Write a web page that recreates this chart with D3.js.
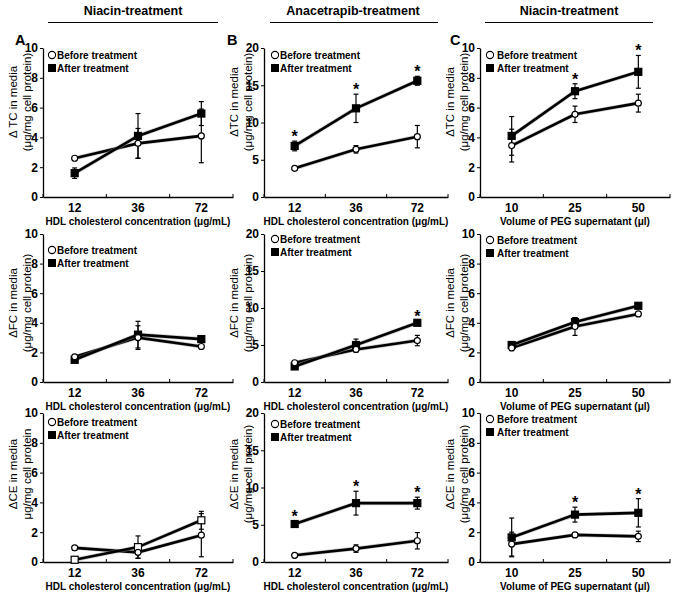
<!DOCTYPE html>
<html>
<head>
<meta charset="utf-8">
<script src="https://cdn.jsdelivr.net/npm/d3@7"></script>
<style>
  body { margin: 0; background: #fff; }
  text { font-family: "Liberation Sans", Arial, sans-serif; fill: #000; }
</style>
</head>
<body>
<div id="chart"></div>
<script>
// categories
const hdlConc = ["12", "36", "72"];
const pegVolume = ["10", "25", "50"];
const colTitles = ["Niacin-treatment", "Anacetrapib-treatment", "Niacin-treatment"];
const panelLetters = ["A", "B", "C"];
const ticks10 = [0, 2, 4, 6, 8, 10];
const ticks20 = [0, 5, 10, 15, 20];

// row 1: total cholesterol
const tcNiacinBefore = [2.6, 3.6, 4.1], tcNiacinBeforeErr = [0.1, 1.0, 1.8];
const tcNiacinAfter = [1.6, 4.1, 5.6], tcNiacinAfterErr = [0.35, 1.5, 0.8];
const tcAnaBefore = [3.85, 6.4, 8.1], tcAnaBeforeErr = [0.2, 0.5, 1.5];
const tcAnaAfter = [6.85, 11.9, 15.6], tcAnaAfterErr = [0.65, 1.9, 0.6];
const tcAnaStars = [0, 1, 2];
const tcPegBefore = [3.45, 5.55, 6.3], tcPegBeforeErr = [1.1, 0.55, 0.6];
const tcPegAfter = [4.1, 7.1, 8.4], tcPegAfterErr = [1.3, 0.5, 1.1];
const tcPegStars = [1, 2];

// row 2: free cholesterol
const fcNiacinBefore = [1.7, 3.0, 2.4], fcNiacinBeforeErr = [0.1, 0.8, 0.1];
const fcNiacinAfter = [1.5, 3.2, 2.9], fcNiacinAfterErr = [0.1, 0.9, 0.15];
const fcAnaBefore = [2.6, 4.4, 5.6], fcAnaBeforeErr = [0.2, 0.3, 0.7];
const fcAnaAfter = [2.1, 5.0, 8.0], fcAnaAfterErr = [0.2, 0.8, 0.2];
const fcAnaStars = [2];
const fcPegBefore = [2.3, 3.75, 4.6], fcPegBeforeErr = [0.1, 0.6, 0.1];
const fcPegAfter = [2.5, 4.05, 5.15], fcPegAfterErr = [0.1, 0.3, 0.15];
const fcPegStars = [];

// row 3: cholesteryl ester
const ceNiacinBefore = [0.95, 0.65, 1.8], ceNiacinBeforeErr = [0.15, 0.4, 1.45];
const ceNiacinAfter = [0.15, 1.0, 2.8], ceNiacinAfterErr = [0.1, 0.75, 0.6];
const ceAnaBefore = [0.9, 1.8, 2.85], ceAnaBeforeErr = [0.1, 0.5, 1.1];
const ceAnaAfter = [5.1, 7.9, 7.9], ceAnaAfterErr = [0.4, 1.6, 0.8];
const ceAnaStars = [0, 1, 2];
const cePegBefore = [1.2, 1.82, 1.72], cePegBeforeErr = [0.8, 0.1, 0.35];
const cePegAfter = [1.65, 3.18, 3.3], cePegAfterErr = [1.3, 0.5, 0.95];
const cePegStars = [1, 2];

const hdlTitle = "HDL cholesterol concentration (μg/mL)";
const pegTitle = "Volume of PEG supernatant (μl)";

// layout
const cols = [{ x: 43, w: 190 }, { x: 264, w: 184 }, { x: 480, w: 190 }];
const rows = [{ y: 48, h: 149, titleY: 102 }, { y: 234, h: 148, titleY: 303 }, { y: 413, h: 149, titleY: 474 }];

const panels = [
  { row: 0, col: 0, cats: hdlConc, xTitle: hdlTitle, yMax: 10, yTicks: ticks10, t1: "Δ TC in media", t2: "(μg/mg cell protein)",
    before: tcNiacinBefore, beforeErr: tcNiacinBeforeErr, after: tcNiacinAfter, afterErr: tcNiacinAfterErr, stars: [], legendDy: 7, legX: 9 },
  { row: 0, col: 1, cats: hdlConc, xTitle: hdlTitle, yMax: 20, yTicks: ticks20, t1: "ΔTC in media", t2: "(μg/mg cell protein)",
    before: tcAnaBefore, beforeErr: tcAnaBeforeErr, after: tcAnaAfter, afterErr: tcAnaAfterErr, stars: tcAnaStars, legendDy: 7, legX: 11 },
  { row: 0, col: 2, cats: pegVolume, xTitle: pegTitle, yMax: 10, yTicks: ticks10, t1: "ΔTC in media", t2: "(μg/mg cell protein)",
    before: tcPegBefore, beforeErr: tcPegBeforeErr, after: tcPegAfter, afterErr: tcPegAfterErr, stars: tcPegStars, legendDy: 7, legX: 10, gap: 8 },
  { row: 1, col: 0, cats: hdlConc, xTitle: hdlTitle, yMax: 10, yTicks: ticks10, t1: "ΔFC in media", t2: "(μg/mg cell protein)",
    before: fcNiacinBefore, beforeErr: fcNiacinBeforeErr, after: fcNiacinAfter, afterErr: fcNiacinAfterErr, stars: [], legendDy: 16, legX: 9 },
  { row: 1, col: 1, cats: hdlConc, xTitle: hdlTitle, yMax: 20, yTicks: ticks20, t1: "ΔFC in media", t2: "(μg/mg cell protein)",
    before: fcAnaBefore, beforeErr: fcAnaBeforeErr, after: fcAnaAfter, afterErr: fcAnaAfterErr, stars: fcAnaStars, legendDy: 5, legX: 11 },
  { row: 1, col: 2, cats: pegVolume, xTitle: pegTitle, yMax: 10, yTicks: ticks10, t1: "ΔFC in media", t2: "(μg/mg cell protein)",
    before: fcPegBefore, beforeErr: fcPegBeforeErr, after: fcPegAfter, afterErr: fcPegAfterErr, stars: fcPegStars, legendDy: 6, legX: 10, gap: 8 },
  { row: 2, col: 0, cats: hdlConc, xTitle: hdlTitle, yMax: 10, yTicks: ticks10, t1: "ΔCE in media", t2: "μg/mg cell protein",
    before: ceNiacinBefore, beforeErr: ceNiacinBeforeErr, after: ceNiacinAfter, afterErr: ceNiacinAfterErr, stars: [], legendDy: 9, legX: 9, openAfter: true },
  { row: 2, col: 1, cats: hdlConc, xTitle: hdlTitle, yMax: 20, yTicks: ticks20, t1: "ΔCE in media", t2: "(μg/mg cell protein)",
    before: ceAnaBefore, beforeErr: ceAnaBeforeErr, after: ceAnaAfter, afterErr: ceAnaAfterErr, stars: ceAnaStars, legendDy: 11, legX: 11 },
  { row: 2, col: 2, cats: pegVolume, xTitle: pegTitle, yMax: 10, yTicks: ticks10, t1: "ΔCE in media", t2: "(μg/mg cell protein)",
    before: cePegBefore, beforeErr: cePegBeforeErr, after: cePegAfter, afterErr: cePegAfterErr, stars: cePegStars, legendDy: 6, legX: 10, gap: 8 }
];

const svg = d3.select("#chart").append("svg")
  .attr("width", 674).attr("height", 597);

// column headers
const headers = [{ cx: 133, x1: 48, x2: 218 }, { cx: 353, x1: 270, x2: 438 }, { cx: 569, x1: 485, x2: 653 }];
headers.forEach((h, i) => {
  svg.append("text").attr("x", h.cx).attr("y", 14.5).attr("text-anchor", "middle")
    .attr("font-size", 12.5).attr("font-weight", "bold").text(colTitles[i]);
  svg.append("line").attr("x1", h.x1).attr("x2", h.x2).attr("y1", 22.5).attr("y2", 22.5)
    .attr("stroke", "#000").attr("stroke-width", 1);
});
[15, 227, 450].forEach((lx, i) => {
  svg.append("text").attr("x", lx).attr("y", 45).attr("font-size", 14.5)
    .attr("font-weight", "bold").text(panelLetters[i]);
});

function drawPanel(p) {
  const c = cols[p.col], r = rows[p.row];
  const g = svg.append("g").attr("transform", `translate(${c.x},${r.y})`);
  const x = d3.scaleBand().domain(p.cats).range([0, c.w]);
  const y = d3.scaleLinear().domain([0, p.yMax]).range([r.h, 0]);
  const cx = i => x(p.cats[i]) + x.bandwidth() / 2;

  const ya = g.append("g").call(d3.axisLeft(y).tickValues(p.yTicks).tickSize(3).tickSizeOuter(0).tickPadding(2));
  ya.select(".domain").attr("stroke-width", 1.3);
  ya.selectAll("text").attr("font-size", 12).attr("font-weight", "bold").attr("font-family", null);

  const xa = g.append("g").attr("transform", `translate(0,${r.h})`)
    .call(d3.axisBottom(x).tickSize(0).tickSizeOuter(0).tickPadding(6));
  xa.select(".domain").attr("stroke-width", 1.3);
  xa.selectAll("text").attr("font-size", 12).attr("font-weight", "bold").attr("font-family", null);
  // small marks between categories
  const bounds = p.cats.map(d => x(d)).concat([x.range()[1]]);
  g.selectAll(".btick").data(bounds).join("line")
    .attr("x1", d => d).attr("x2", d => d).attr("y1", r.h).attr("y2", r.h - 3)
    .attr("stroke", "#000").attr("stroke-width", 1);

  g.append("text").attr("x", c.w / 2).attr("y", r.h + 28).attr("text-anchor", "middle")
    .attr("font-size", 10).attr("font-weight", "bold").text(p.xTitle);

  // y title, two lines
  const ty = r.titleY - r.y;
  [[p.t1, -30], [p.t2, -16]].forEach(([t, dx]) => {
    g.append("text").attr("transform", `translate(${dx},${ty}) rotate(-90)`)
      .attr("text-anchor", "middle").attr("dominant-baseline", "central")
      .attr("font-size", 11.5).text(t);
  });

  const line = d3.line().x((d, i) => cx(i)).y(d => y(d));
  [p.before, p.after].forEach(s => {
    g.append("path").datum(s).attr("d", line).attr("fill", "none")
      .attr("stroke", "#999").attr("stroke-width", 4).attr("opacity", 0.5);
    g.append("path").datum(s).attr("d", line).attr("fill", "none")
      .attr("stroke", "#000").attr("stroke-width", 2.6);
  });

  // error bars
  [[p.before, p.beforeErr], [p.after, p.afterErr]].forEach(([s, e]) => {
    s.forEach((v, i) => {
      const y1 = y(v - e[i]), y2 = y(v + e[i]), xx = cx(i);
      g.append("line").attr("x1", xx).attr("x2", xx).attr("y1", y1).attr("y2", y2)
        .attr("stroke", "#000").attr("stroke-width", 1.2);
      [y1, y2].forEach(yy => g.append("line").attr("x1", xx - 2.5).attr("x2", xx + 2.5)
        .attr("y1", yy).attr("y2", yy).attr("stroke", "#000").attr("stroke-width", 1.2));
    });
  });

  // markers
  g.selectAll(".sq").data(p.after).join("rect")
    .attr("x", (d, i) => cx(i) - 3.5).attr("y", d => y(d) - 3.5)
    .attr("width", 7).attr("height", 7)
    .attr("fill", p.openAfter ? "#fff" : "#000").attr("stroke", "#000").attr("stroke-width", 1.2);
  g.selectAll(".ci").data(p.before).join("circle")
    .attr("cx", (d, i) => cx(i)).attr("cy", d => y(d)).attr("r", 3)
    .attr("fill", "#fff").attr("stroke", "#000").attr("stroke-width", 1.2);

  // significance stars
  p.stars.forEach(i => {
    g.append("text").attr("x", cx(i)).attr("y", y(p.after[i] + p.afterErr[i]) + 1)
      .attr("text-anchor", "middle").attr("font-size", 16).attr("font-weight", "bold").text("*");
  });

  // legend
  const lx = p.legX, ly = p.legendDy, gap = p.gap || 6;
  g.append("circle").attr("cx", lx).attr("cy", ly).attr("r", 3.6)
    .attr("fill", "#fff").attr("stroke", "#000").attr("stroke-width", 1.1);
  g.append("rect").attr("x", lx - 4).attr("y", ly + 13 - 4).attr("width", 8).attr("height", 8).attr("fill", "#000");
  g.append("text").attr("x", lx + gap - 1).attr("y", ly).attr("dominant-baseline", "central")
    .attr("font-size", 10).attr("font-weight", "bold").text("Before treatment");
  g.append("text").attr("x", lx + gap - 1).attr("y", ly + 13).attr("dominant-baseline", "central")
    .attr("font-size", 10).attr("font-weight", "bold").text("After treatment");
}

panels.forEach(drawPanel);
</script>
</body>
</html>
